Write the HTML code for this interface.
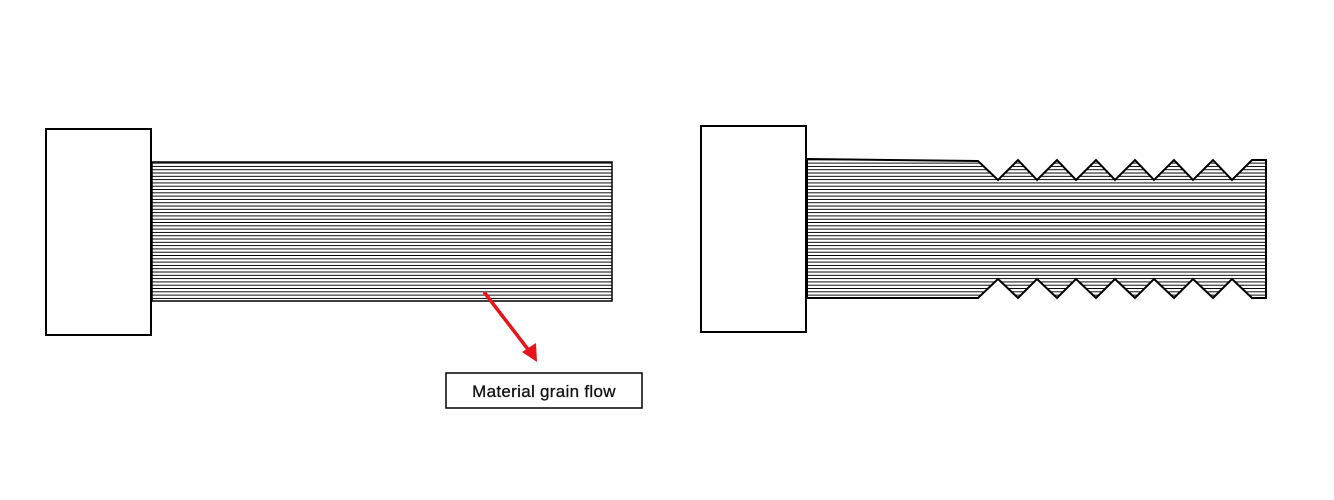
<!DOCTYPE html>
<html><head><meta charset="utf-8"><style>
html,body{margin:0;padding:0;background:#fff;width:1334px;height:500px;overflow:hidden}
</style></head><body>
<svg width="1334" height="500" viewBox="0 0 1334 500" xmlns="http://www.w3.org/2000/svg">
<defs>
<pattern id="h" x="0" y="0" width="10" height="3.3" patternUnits="userSpaceOnUse">
<line x1="0" y1="1.5" x2="10" y2="1.5" stroke="#000" stroke-width="1.2" shape-rendering="crispEdges"/>
</pattern>
</defs>
<rect x="152" y="162" width="460" height="139" fill="url(#h)" stroke="#000" stroke-width="1.5"/>
<rect x="46" y="129" width="105" height="206" fill="#fff" stroke="#000" stroke-width="2"/>
<path d="M807,159 L978,161 L998,180 L1018,160 L1037,180 L1057,160 L1076,180 L1096,160 L1115,180 L1135,160 L1154,180 L1174,160 L1193,180 L1213,160 L1232,180 L1252,160 L1266,160 L1266,298 L1252,298 L1232,279 L1213,298 L1193,279 L1174,298 L1154,279 L1135,298 L1115,279 L1096,298 L1076,279 L1057,298 L1037,279 L1018,298 L998,279 L978,298 L807,298 Z" fill="url(#h)" stroke="#000" stroke-width="2" stroke-linejoin="miter"/>
<rect x="701" y="126" width="105" height="206" fill="#fff" stroke="#000" stroke-width="2"/>
<line x1="484" y1="292" x2="530" y2="352" stroke="#e8141b" stroke-width="3.5"/>
<path d="M537,362 L522,352 L536,343 Z" fill="#e8141b"/>
<rect x="446" y="373" width="196" height="35" fill="#fff" stroke="#000" stroke-width="1.5"/>
<text x="544" y="397" text-anchor="middle" font-family="Liberation Sans, sans-serif" font-size="17" letter-spacing="0.3" fill="#111" stroke="#111" stroke-width="0.3">Material grain flow</text>
</svg>
</body></html>
